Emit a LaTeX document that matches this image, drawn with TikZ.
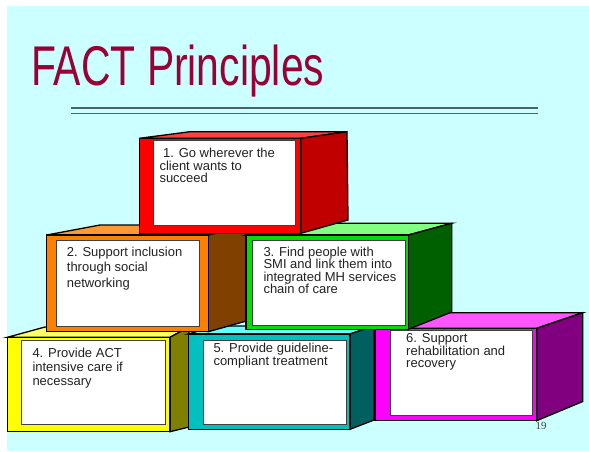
\documentclass[tikz,border=0pt]{standalone}
\usepackage{fontspec}
\setmainfont{Liberation Sans}
\newfontfamily\pagenumfont{Liberation Serif}
\usepackage{tikz}
\definecolor{slide}{HTML}{CCFFFF}
\definecolor{headline}{HTML}{990033}
\definecolor{rule}{HTML}{4A6464}
\definecolor{txt}{HTML}{222222}
\definecolor{redfront}{HTML}{FF0000}
\definecolor{redtop}{HTML}{FF4040}
\definecolor{redside}{HTML}{C00000}
\definecolor{orangefront}{HTML}{FF8000}
\definecolor{orangetop}{HTML}{FF9933}
\definecolor{orangeside}{HTML}{804000}
\definecolor{greenfront}{HTML}{00DD00}
\definecolor{greentop}{HTML}{80FF80}
\definecolor{greenside}{HTML}{006000}
\definecolor{yellowfront}{HTML}{FFFF00}
\definecolor{yellowtop}{HTML}{FFFF66}
\definecolor{yellowside}{HTML}{808000}
\definecolor{cyanfront}{HTML}{00C0C0}
\definecolor{cyantop}{HTML}{66FFFF}
\definecolor{cyanside}{HTML}{006060}
\definecolor{magentafront}{HTML}{FF00FF}
\definecolor{magentatop}{HTML}{FF55FF}
\definecolor{magentaside}{HTML}{800080}

\begin{document}
\begin{tikzpicture}[
    x=1pt, y=-1pt,
    face/.style = {draw=black, line width=1.3pt, line join=miter},
    panel/.style = {fill=white, draw=darkgray, line width=0.8pt},
    itemtext/.style = {anchor=north west, inner sep=0pt, align=left, text=txt, font=\fontsize{13}{12.5}\selectfont},
]
    \useasboundingbox (0,0) rectangle (589,451);
    \fill[white] (0,0) rectangle (589,451);
    \fill[slide] (7,6) rectangle (589,451);

    % title
    \node [anchor=base west, inner sep=0pt, text=headline, font=\fontsize{56}{60}\selectfont] (title) at (31,85) {\scalebox{0.73}[1]{FACT Principles}};
    \draw [rule, line width=1.3pt] (71,108) -- (538,108);
    \draw [rule, line width=1.3pt] (71,113.5) -- (538,113.5);

    % box 4
    \filldraw[face, fill=yellowtop] (7.3,337.3) -- (170,337.3) -- (189,327) -- (45,327) -- cycle;
    \filldraw[face, fill=yellowside] (170,337.3) -- (189,327) -- (189,427) -- (170,431.7) -- cycle;
    \filldraw[face, fill=yellowfront] (7.3,337.3) rectangle (170,431.7);
    \filldraw[panel] (21.7,340) rectangle (165,424);
    \node [itemtext, font=\fontsize{13}{13.9}\selectfont] (text4) at (32.3,347.9) {4. Provide ACT\\intensive care if\\necessary};

    % box 5
    \filldraw[face, fill=cyantop] (188.3,334) -- (350,334) -- (374,326) -- (215,326) -- cycle;
    \filldraw[face, fill=cyanside] (350,334) -- (374,326) -- (374,420) -- (350,429.3) -- cycle;
    \filldraw[face, fill=cyanfront] (188.3,334) rectangle (350,429.3);
    \filldraw[panel] (203.3,340.7) rectangle (346,424);
    \node [itemtext] (text5) at (213.3,343.3) {5. Provide guideline-\\compliant treatment};

    % box 6
    \filldraw[face, fill=magentatop] (375,328.3) -- (536.7,328.3) -- (582.7,312.7) -- (425,312.7) -- cycle;
    \filldraw[face, fill=magentaside] (536.7,328.3) -- (582.7,312.7) -- (582.7,401.5) -- (536.7,420.7) -- cycle;
    \filldraw[face, fill=magentafront] (375,328.3) rectangle (536.7,420.7);
    \filldraw[panel] (390,330) rectangle (532.7,415);
    \node [itemtext] (text6) at (406,333.3) {6. Support\\rehabilitation and\\recovery};

    % box 2
    \filldraw[face, fill=orangetop] (46.7,235) -- (208.3,235) -- (250,225) -- (100,225) -- cycle;
    \filldraw[face, fill=orangeside] (208.3,235) -- (250,225) -- (250,320) -- (208.3,331.7) -- cycle;
    \filldraw[face, fill=orangefront] (46.7,235) rectangle (208.3,331.7);
    \filldraw[panel] (56.7,240.7) rectangle (199,326.7);
    \node [itemtext, font=\fontsize{13}{15.7}\selectfont] (text2) at (66.7,246.6) {2. Support inclusion\\through social\\networking};

    % box 3
    \filldraw[face, fill=greentop] (246,235) -- (408.3,235) -- (451.7,223.3) -- (292,223.3) -- cycle;
    \filldraw[face, fill=greenside] (408.3,235) -- (451.7,223.3) -- (451.7,312) -- (408.3,329.3) -- cycle;
    \filldraw[face, fill=greenfront] (246,235) rectangle (408.3,329.3);
    \filldraw[panel] (252.7,240.7) rectangle (405.7,325);
    \node [itemtext] (text3) at (263.3,246.6) {3. Find people with\\SMI and link them into\\integrated MH services\\chain of care};

    % box 1
    \filldraw[face, fill=redtop] (139.3,138.3) -- (300.7,138.3) -- (347,131.7) -- (190,131.7) -- cycle;
    \filldraw[face, fill=redside] (300.7,138.3) -- (347,131.7) -- (348,220) -- (300.7,233.3) -- cycle;
    \filldraw[face, fill=redfront] (139.3,138.3) rectangle (300.7,233.3);
    \filldraw[panel] (153.3,140.7) rectangle (295.7,225);
    \node [itemtext] (text1) at (159.3,147.9) {\hspace*{3.6pt}1. Go wherever the\\client wants to\\succeed};

    % page number
    \node [anchor=base, inner sep=0pt, text=darkgray, font=\pagenumfont\fontsize{10.8}{12}\selectfont] (pagenum) at (541,429) {19};
\end{tikzpicture}
\end{document}
